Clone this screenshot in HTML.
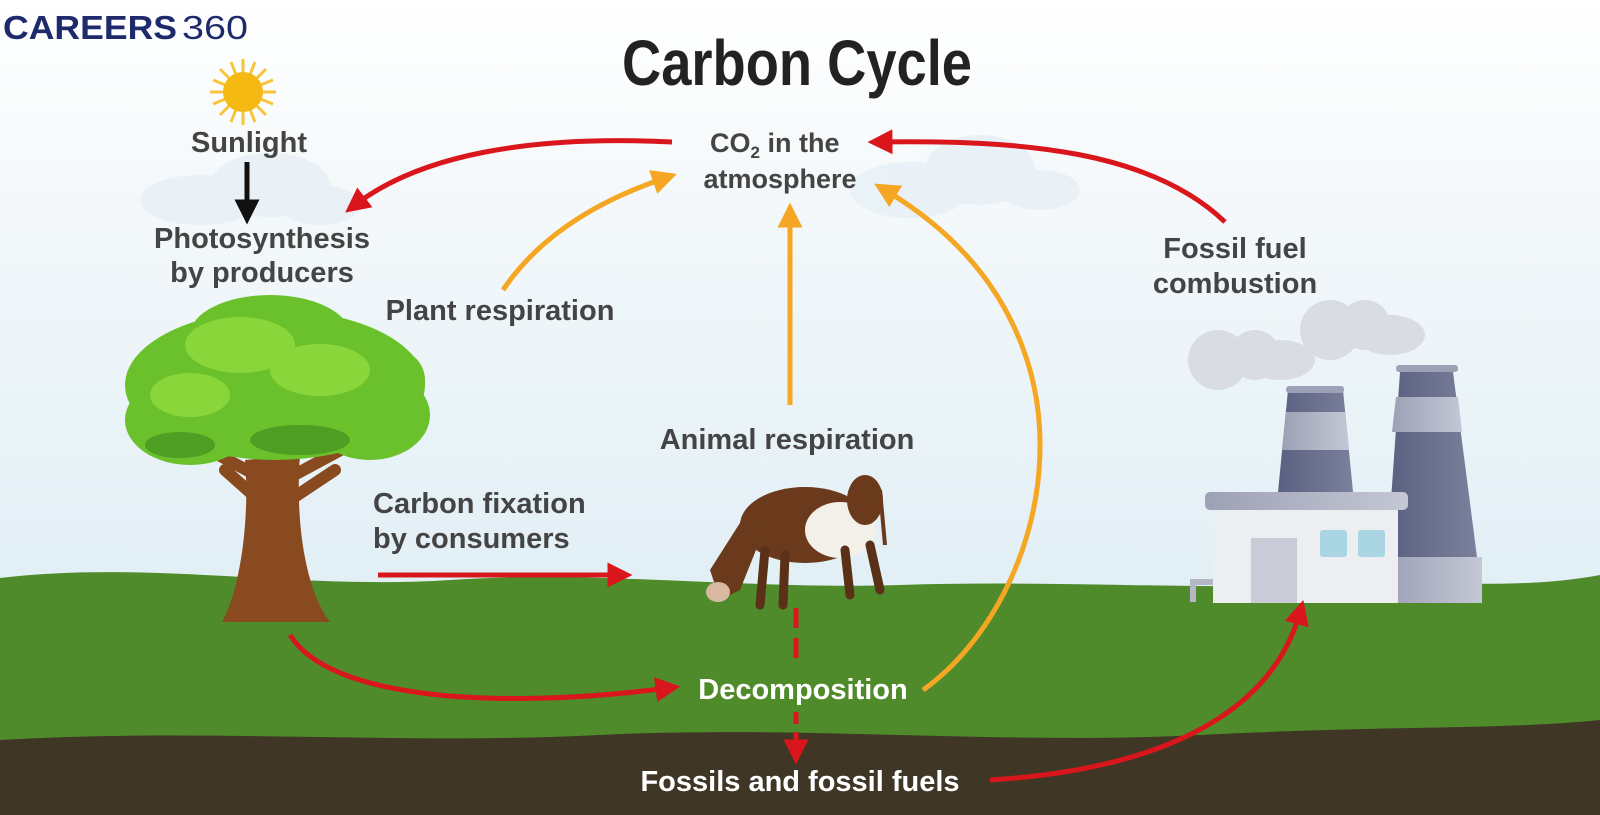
<!DOCTYPE html>
<html><head><meta charset="utf-8"><style>
html,body{margin:0;padding:0;width:1600px;height:815px;overflow:hidden;background:#fff}
svg{display:block}
text{font-family:"Liberation Sans",sans-serif}
</style></head><body>
<svg width="1600" height="815" viewBox="0 0 1600 815" xmlns="http://www.w3.org/2000/svg">
<defs>
<linearGradient id="sky" x1="0" y1="0" x2="0" y2="1">
<stop offset="0" stop-color="#ffffff"/><stop offset="0.25" stop-color="#f4f8fa"/><stop offset="1" stop-color="#d6eaf3"/>
</linearGradient>
<linearGradient id="chim" x1="0" y1="0" x2="1" y2="0">
<stop offset="0" stop-color="#5a6080"/><stop offset="1" stop-color="#7b809c"/>
</linearGradient>
<linearGradient id="chimL" x1="0" y1="0" x2="1" y2="0">
<stop offset="0" stop-color="#9da1b5"/><stop offset="1" stop-color="#c4c7d4"/>
</linearGradient>
<marker id="ar" viewBox="0 0 10 10" refX="5" refY="5" markerWidth="5" markerHeight="5" orient="auto"><path d="M0,0 L10,5 L0,10 z" fill="#d9161c"/></marker>
<marker id="ao" viewBox="0 0 10 10" refX="5" refY="5" markerWidth="5" markerHeight="5" orient="auto"><path d="M0,0 L10,5 L0,10 z" fill="#f5a623"/></marker>
<marker id="ak" viewBox="0 0 10 10" refX="5" refY="5" markerWidth="5" markerHeight="5" orient="auto"><path d="M0,0 L10,5 L0,10 z" fill="#111"/></marker>
</defs>
<rect width="1600" height="815" fill="url(#sky)"/>
<g fill="#e8f1f6" opacity="0.9">
<ellipse cx="200" cy="200" rx="60" ry="25"/><ellipse cx="270" cy="185" rx="60" ry="32"/><ellipse cx="320" cy="205" rx="40" ry="20"/>
<ellipse cx="910" cy="190" rx="60" ry="28"/><ellipse cx="980" cy="170" rx="55" ry="35"/><ellipse cx="1040" cy="190" rx="40" ry="20"/>
</g>
<path d="M0,578 C150,560 300,590 450,580 C600,570 750,590 900,585 C1050,580 1200,590 1350,585 C1450,580 1520,590 1600,575 L1600,815 L0,815 Z" fill="#4f8b2b"/>
<path d="M0,740 C200,728 400,745 600,735 C800,725 1000,745 1200,735 C1400,725 1500,730 1600,720 L1600,815 L0,815 Z" fill="#3f3626"/>
<g fill="#d9dce3">
<circle cx="1218" cy="360" r="30"/><circle cx="1255" cy="355" r="25"/><ellipse cx="1280" cy="360" rx="35" ry="20"/>
<circle cx="1330" cy="330" r="30"/><circle cx="1365" cy="325" r="25"/><ellipse cx="1390" cy="335" rx="35" ry="20"/>
</g>
<path d="M1400,372 L1453,372 L1477,557 L1387,557 Z" fill="url(#chim)"/>
<path d="M1396,397 L1458,397 L1462,432 L1392,432 Z" fill="url(#chimL)"/>
<rect x="1396" y="365" width="62" height="7" rx="3" fill="#9da1b5"/>
<rect x="1387" y="557" width="95" height="46" fill="url(#chimL)"/>
<path d="M1288,390 L1343,390 L1353,492 L1278,492 Z" fill="url(#chim)"/>
<path d="M1286,412 L1345,412 L1349,450 L1282,450 Z" fill="url(#chimL)"/>
<rect x="1286" y="386" width="58" height="7" rx="3" fill="#9da1b5"/>
<rect x="1213" y="508" width="185" height="95" fill="#eceef2"/>
<rect x="1205" y="492" width="203" height="18" rx="5" fill="url(#chimL)"/>
<rect x="1251" y="538" width="46" height="65" fill="#c9ccd6"/>
<rect x="1320" y="530" width="27" height="27" rx="3" fill="#a9d6e2"/>
<rect x="1358" y="530" width="27" height="27" rx="3" fill="#a9d6e2"/>
<path d="M1213,582 L1193,582 L1193,602" stroke="#b4b8c6" stroke-width="6" fill="none"/>
<!-- tree -->
<path d="M245,460 C250,520 240,590 222,622 L330,622 C305,590 295,520 300,455 Z" fill="#8a4a20"/>
<path d="M265,480 L200,445 M285,480 L350,445 M270,510 L225,470 M290,500 L335,470" stroke="#8a4a20" stroke-width="12" fill="none" stroke-linecap="round"/>
<g fill="#6ac12c">
<ellipse cx="275" cy="385" rx="150" ry="75"/><ellipse cx="190" cy="420" rx="65" ry="45"/><ellipse cx="370" cy="415" rx="60" ry="45"/>
<ellipse cx="270" cy="335" rx="80" ry="40"/><ellipse cx="165" cy="385" rx="35" ry="30"/><ellipse cx="395" cy="380" rx="30" ry="30"/>
</g>
<g fill="#88d63a"><ellipse cx="240" cy="345" rx="55" ry="28"/><ellipse cx="320" cy="370" rx="50" ry="26"/><ellipse cx="190" cy="395" rx="40" ry="22"/></g>
<g fill="#4d9e22"><ellipse cx="300" cy="440" rx="50" ry="15"/><ellipse cx="180" cy="445" rx="35" ry="13"/></g>
<!-- cow -->
<g>
<ellipse cx="805" cy="525" rx="65" ry="38" fill="#6b3a1d"/>
<ellipse cx="840" cy="530" rx="35" ry="28" fill="#f3f0ea"/>
<ellipse cx="865" cy="500" rx="18" ry="25" fill="#6b3a1d"/>
<path d="M745,515 L710,570 L720,600 L740,590 L760,540 Z" fill="#6b3a1d"/>
<ellipse cx="718" cy="592" rx="12" ry="10" fill="#d8b8a0"/>
<path d="M765,550 L760,605 M785,555 L783,605 M845,550 L850,595 M870,545 L880,590" stroke="#5a3018" stroke-width="9" stroke-linecap="round"/>
<path d="M880,490 L885,545" stroke="#6b3a1d" stroke-width="4"/>
</g>
<g transform="translate(243,92)">
<g stroke="#f8c43a" stroke-width="3">
<line x1="0" y1="-33" x2="0" y2="33"/><line x1="-33" y1="0" x2="33" y2="0"/>
<line x1="-23" y1="-23" x2="23" y2="23"/><line x1="-23" y1="23" x2="23" y2="-23"/>
<line x1="-12" y1="-30" x2="12" y2="30"/><line x1="-30" y1="-12" x2="30" y2="12"/>
<line x1="12" y1="-30" x2="-12" y2="30"/><line x1="30" y1="-12" x2="-30" y2="12"/>
</g>
<circle r="20" fill="#f5b914"/>
</g>
<text x="3" y="39" font-size="33" font-weight="bold" fill="#1e2a6b" textLength="174" lengthAdjust="spacingAndGlyphs">CAREERS</text>
<text x="182" y="39" font-size="33" fill="#1e2a6b" textLength="66" lengthAdjust="spacingAndGlyphs">360</text>
<text x="622" y="85" font-size="64" font-weight="bold" fill="#222" textLength="350" lengthAdjust="spacingAndGlyphs">Carbon Cycle</text>
<g fill="none" stroke-width="5">
<path d="M672,142 C530,135 420,155 355,205" stroke="#d9161c" marker-end="url(#ar)"/>
<path d="M1225,222 C1150,150 1020,140 880,142" stroke="#d9161c" marker-end="url(#ar)"/>
<path d="M503,290 C540,235 600,200 665,178" stroke="#f5a623" marker-end="url(#ao)"/>
<path d="M790,405 L790,215" stroke="#f5a623" marker-end="url(#ao)"/>
<path d="M923,690 C1050,600 1120,330 885,190" stroke="#f5a623" marker-end="url(#ao)"/>
<path d="M378,575 L620,575" stroke="#d9161c" marker-end="url(#ar)"/>
<path d="M290,635 C330,700 500,710 668,688" stroke="#d9161c" marker-end="url(#ar)"/>
<path d="M796,608 L796,660" stroke="#d9161c" stroke-dasharray="20,10"/>
<path d="M796,712 L796,752" stroke="#d9161c" stroke-dasharray="12,8" marker-end="url(#ar)"/>
<path d="M990,780 C1150,770 1270,720 1300,612" stroke="#d9161c" marker-end="url(#ar)"/>
<path d="M247,162 L247,212" stroke="#111" marker-end="url(#ak)"/>
</g>
<g font-size="29" fill="#444" font-weight="bold">
<text x="249" y="152" text-anchor="middle">Sunlight</text>
<text x="262" y="248" text-anchor="middle">Photosynthesis</text>
<text x="262" y="282" text-anchor="middle">by producers</text>
<text x="710" y="152" font-size="27">CO<tspan font-size="17" dy="6">2</tspan><tspan dy="-6"> in the</tspan></text>
<text x="780" y="188" text-anchor="middle" font-size="27">atmosphere</text>
<text x="1235" y="258" text-anchor="middle">Fossil fuel</text>
<text x="1235" y="293" text-anchor="middle">combustion</text>
<text x="500" y="320" text-anchor="middle">Plant respiration</text>
<text x="787" y="449" text-anchor="middle">Animal respiration</text>
<text x="373" y="513">Carbon fixation</text>
<text x="373" y="548">by consumers</text>
<text x="803" y="699" text-anchor="middle" fill="#fff">Decomposition</text>
<text x="800" y="791" text-anchor="middle" fill="#fff">Fossils and fossil fuels</text>
</g>
</svg>
</body></html>
